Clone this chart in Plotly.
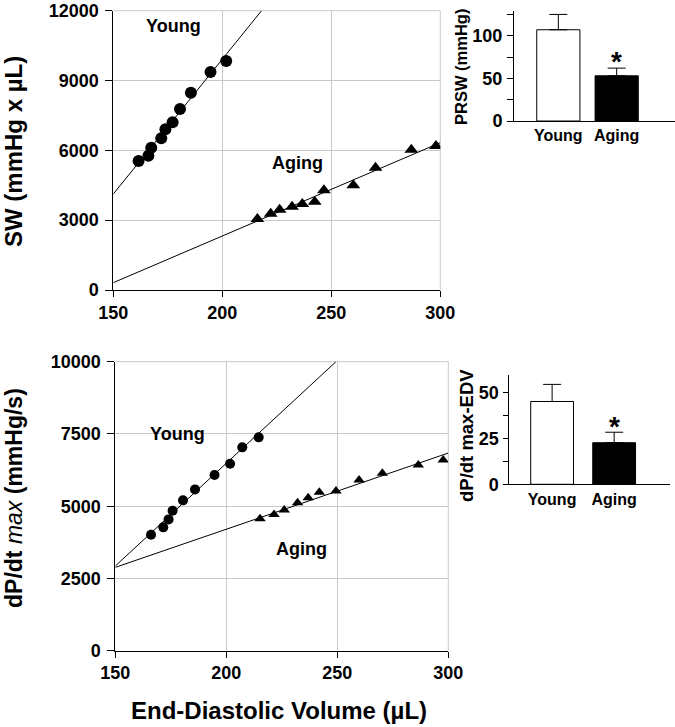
import plotly.graph_objects as go

# ---------------- data ----------------
# Top panel: stroke work vs EDV
sw_young_x = [161.6, 166.1, 167.4, 172.0, 173.9, 177.2, 180.6, 185.6, 194.6, 201.8]
sw_young_y = [5542, 5771, 6115, 6516, 6903, 7203, 7776, 8478, 9366, 9838]
sw_aging_x = [216.1, 222.2, 226.3, 232.0, 236.7, 242.4, 246.6, 260.1, 270.3, 286.7, 298.0]
sw_aging_y = [3050, 3279, 3451, 3580, 3695, 3795, 4282, 4497, 5256, 6029, 6186]
sw_young_fit_x = [150, 218]
sw_young_fit_y = [4124, 12000]
sw_aging_fit_x = [150, 300]
sw_aging_fit_y = [315, 6330]

# Bottom panel: dP/dt max vs EDV
dp_young_x = [166.1, 171.6, 174.0, 175.8, 180.5, 185.9, 194.7, 201.7, 207.2, 214.6]
dp_young_y = [4014, 4268, 4544, 4844, 5202, 5582, 6078, 6471, 7036, 7382]
dp_aging_x = [215.2, 221.5, 226.1, 232.1, 236.9, 241.9, 249.4, 259.8, 270.3, 286.5, 297.7]
dp_aging_y = [4567, 4717, 4867, 5121, 5294, 5479, 5525, 5905, 6136, 6424, 6597]
dp_young_fit_x = [150, 249.4]
dp_young_fit_y = [2930, 10000]
dp_aging_fit_x = [150, 300]
dp_aging_fit_y = [2884, 6840]

# Axis ticks
x_ticks = [150, 200, 250, 300]
sw_ticks = [0, 3000, 6000, 9000, 12000]
dp_ticks = [0, 2500, 5000, 7500, 10000]

# Bar insets
groups = ["Young", "Aging"]
prsw_mean = [107, 53]
prsw_err = [18, 9]
dpedv_mean = [45, 22.6]
dpedv_err = [9.3, 5.7]

# ---------------- figure ----------------
W, H = 675, 727
FONT = "Liberation Sans, Arial, sans-serif"

def px(x):
    return x / W

def py(y):
    return 1 - y / H

fig = go.Figure()

line_style = dict(color="black", width=1)

# top scatter (xaxis / yaxis)
fig.add_trace(go.Scatter(x=sw_young_fit_x, y=sw_young_fit_y, mode="lines", line=line_style,
                         xaxis="x", yaxis="y", hoverinfo="skip"))
fig.add_trace(go.Scatter(x=sw_aging_fit_x, y=sw_aging_fit_y, mode="lines", line=line_style,
                         xaxis="x", yaxis="y", hoverinfo="skip"))
fig.add_trace(go.Scatter(x=sw_young_x, y=sw_young_y, mode="markers",
                         marker=dict(symbol="circle", size=12, color="black"),
                         xaxis="x", yaxis="y"))
fig.add_trace(go.Scatter(x=sw_aging_x, y=sw_aging_y, mode="markers",
                         marker=dict(symbol="triangle-up", size=12, color="black"),
                         xaxis="x", yaxis="y"))

# bottom scatter (xaxis2 / yaxis2)
fig.add_trace(go.Scatter(x=dp_young_fit_x, y=dp_young_fit_y, mode="lines", line=line_style,
                         xaxis="x2", yaxis="y2", hoverinfo="skip"))
fig.add_trace(go.Scatter(x=dp_aging_fit_x, y=dp_aging_fit_y, mode="lines", line=line_style,
                         xaxis="x2", yaxis="y2", hoverinfo="skip"))
fig.add_trace(go.Scatter(x=dp_young_x, y=dp_young_y, mode="markers",
                         marker=dict(symbol="circle", size=10, color="black"),
                         xaxis="x2", yaxis="y2"))
fig.add_trace(go.Scatter(x=dp_aging_x, y=dp_aging_y, mode="markers",
                         marker=dict(symbol="triangle-up", size=10, color="black"),
                         xaxis="x2", yaxis="y2"))

# top bar inset (xaxis3 / yaxis3)
fig.add_trace(go.Bar(x=groups, y=prsw_mean, width=0.74,
                     marker=dict(color=["white", "black"], line=dict(color="black", width=1)),
                     error_y=dict(type="data", array=prsw_err, arrayminus=[0, 0], symmetric=False,
                                  color="black", thickness=1, width=9),
                     xaxis="x3", yaxis="y3"))
# bottom bar inset (xaxis4 / yaxis4)
fig.add_trace(go.Bar(x=groups, y=dpedv_mean, width=0.69,
                     marker=dict(color=["white", "black"], line=dict(color="black", width=1)),
                     error_y=dict(type="data", array=dpedv_err, arrayminus=[0, 0], symmetric=False,
                                  color="black", thickness=1, width=9),
                     xaxis="x4", yaxis="y4"))

tickfont = dict(family=FONT, size=18, color="black", weight="bold")
grid = "#c8c8c8"

scatter_x = dict(range=[150, 300], tickvals=x_ticks, ticktext=[str(v) for v in x_ticks],
                 showgrid=True, gridcolor=grid,
                 gridwidth=1, showline=True, linecolor="black", linewidth=1, ticks="outside",
                 ticklen=6, tickcolor="black", tickfont=tickfont, zeroline=False, automargin=False)
scatter_y = dict(showgrid=True, gridcolor=grid, gridwidth=1, showline=True, linecolor="black",
                 linewidth=1, ticks="outside", ticklen=7, tickcolor="black", tickfont=tickfont,
                 zeroline=False, ticklabelstandoff=3, automargin=False)

fig.update_layout(
    template="none",
    width=W, height=H, margin=dict(l=0, r=0, t=0, b=0, pad=0, autoexpand=False),
    paper_bgcolor="white", plot_bgcolor="white", showlegend=False,
    font=dict(family=FONT, color="black"),
    xaxis=dict(domain=[px(113.3), px(440.3)], anchor="y", **scatter_x),
    yaxis=dict(domain=[py(290), py(10.7)], anchor="x", range=[0, 12000],
               tickvals=sw_ticks, ticktext=[str(v) for v in sw_ticks], **scatter_y),
    xaxis2=dict(domain=[px(115.3), px(448.3)], anchor="y2", **scatter_x),
    yaxis2=dict(domain=[py(650.7), py(361.7)], anchor="x2", range=[0, 10000],
                tickvals=dp_ticks, ticktext=[str(v) for v in dp_ticks], **scatter_y),
    xaxis3=dict(domain=[px(514), px(675)], anchor="y3", range=[-0.76, 2.0], type="category",
                showline=True, linecolor="black", linewidth=1, ticks="", showgrid=False,
                automargin=False,
                tickfont=dict(family=FONT, size=16, color="black", weight="bold")),
    yaxis3=dict(domain=[py(121), py(11)], anchor="x3", range=[0, 129], tickvals=[0, 50, 100],
                showline=True, linecolor="black", linewidth=1, ticks="outside", ticklen=6,
                tickcolor="black", showgrid=False, zeroline=False, tickfont=tickfont,
                automargin=False, ticklabelstandoff=1,
                minor=dict(tickvals=[25, 75, 125], ticks="outside", ticklen=6, tickcolor="black",
                           showgrid=False)),
    xaxis4=dict(domain=[px(509.3), px(670)], anchor="y4", range=[-0.69, 1.9], type="category",
                showline=True, linecolor="black", linewidth=1, ticks="", showgrid=False,
                automargin=False,
                tickfont=dict(family=FONT, size=16, color="black", weight="bold")),
    yaxis4=dict(domain=[py(484.3), py(375)], anchor="x4", range=[0, 59.4], tickvals=[0, 25, 50],
                showline=True, linecolor="black", linewidth=1, ticks="outside", ticklen=5,
                tickcolor="black", showgrid=False, zeroline=False, tickfont=tickfont,
                automargin=False, ticklabelstandoff=1,
                minor=dict(tickvals=[12.5, 37.5], ticks="outside", ticklen=5, tickcolor="black",
                           showgrid=False)),
)

# light grey frame lines on top and right of the scatter panels (continuation of the grid)
for xr, yr in (("x", "y"), ("x2", "y2")):
    fig.add_shape(type="line", xref=f"{xr} domain", yref=f"{yr} domain", x0=0, x1=1, y0=1, y1=1,
                  line=dict(color=grid, width=1), layer="below")
    fig.add_shape(type="line", xref=f"{xr} domain", yref=f"{yr} domain", x0=1, x1=1, y0=0, y1=1,
                  line=dict(color=grid, width=1), layer="below")

def ann(text, x, y, size, angle=0, bold=True):
    fig.add_annotation(text=text, x=px(x), y=py(y), xref="paper", yref="paper",
                       showarrow=False, textangle=angle, xanchor="center", yanchor="middle",
                       font=dict(family=FONT, size=size, color="black",
                                 weight="bold" if bold else "normal"))

ann("Young", 173, 26, 18)
ann("Aging", 297, 163, 18)
ann("Young", 177, 434, 18)
ann("Aging", 301, 549, 18)
ann("SW (mmHg x µL)", 14, 152, 24, angle=-90)
ann("<b>dP/dt </b><i>max</i><b> (mmHg/s)</b>", 14, 498, 23, angle=-90, bold=False)
ann("End-Diastolic Volume (µL)", 279, 710, 24)
ann("PRSW (mmHg)", 461, 67, 16.5, angle=-90)
ann("dP/dt max-EDV", 466, 436, 18.5, angle=-90)
ann("*", 616, 62, 28)
ann("*", 614, 426, 28)

# remove the default page margin so the 675x727 figure fills the window exactly
fig.write_html("out.html", config={"displayModeBar": False},
               post_script="document.body.style.margin='0';document.body.style.overflow='hidden';")
